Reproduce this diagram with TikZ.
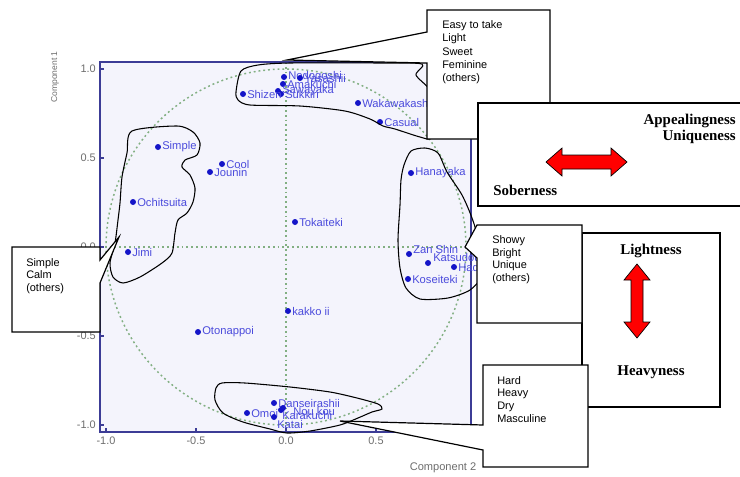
\documentclass[tikz,border=0pt]{standalone}
\usepackage{fontspec}
\setmainfont{Liberation Sans}
\newfontfamily\serifb{Liberation Serif}
\definecolor{navy}{RGB}{60,60,150}
\definecolor{plotbg}{RGB}{244,244,252}
\definecolor{dotblue}{RGB}{20,20,200}
\definecolor{lblblue}{RGB}{75,75,220}
\definecolor{dgreen}{RGB}{130,175,130}
\definecolor{tickgray}{RGB}{110,110,110}
\begin{document}
\begin{tikzpicture}[x=0.75pt,y=-0.75pt,
  lbl/.style={anchor=west,inner sep=0pt,text=lblblue,font=\fontsize{8.4}{9}\selectfont},
  dot/.style={circle,fill=dotblue,inner sep=0pt,minimum size=4.5pt},
  tickl/.style={inner sep=0pt,text=tickgray,font=\fontsize{8.2}{9}\selectfont},
  gridl/.style={draw=dgreen,line width=1.1pt,dash pattern=on 1.4pt off 2.2pt},
  frame/.style={draw=navy,line width=1.1pt},
  blob/.style={draw=black,line width=0.8pt},
  callout/.style={draw=black,fill=white,line width=0.9pt,line join=miter},
  ct/.style={anchor=base west,inner sep=0pt,font=\fontsize{8.2}{10}\selectfont},
  bt/.style={inner sep=0pt,font=\serifb\bfseries\fontsize{11.2}{13}\selectfont},
  redarrow/.style={fill=red,draw=black,line width=0.5pt,line join=miter}]
\useasboundingbox (0,0) rectangle (740,476);
\fill[white] (0,0) rectangle (740,476);
% plot area
\fill[plotbg] (100,62) rectangle (471,432);
\draw[gridl] (100,247) -- (471,247);
\draw[gridl] (286,62) -- (286,432);
\draw[gridl] (286,247) ellipse [x radius=180,y radius=178];
\draw[frame] (100,62) rectangle (471,432);
\foreach \y/\t [count=\i] in {69/1.0,158/0.5,247/0.0,336/-0.5,425/-1.0}{
  \draw[navy,line width=0.8pt] (100,\y) -- (104,\y);
  \node[tickl,anchor=east] (ty\i) at (96,\y) {\t};}
\foreach \x/\t [count=\i] in {106/-1.0,196/-0.5,286/0.0,376/0.5}{
  \draw[navy,line width=0.8pt] (\x,432) -- (\x,428);
  \node[tickl] (tx\i) at (\x,441) {\t};}
\node[tickl,rotate=90,font=\fontsize{6.4}{7}\selectfont] (ax1) at (55,77) {Component 1};
\node[tickl,font=\fontsize{8.3}{9}\selectfont] (ax2) at (443,468) {Component 2};
% points
\foreach \n/\x/\y/\t in {
  nodo/284/77/Nodogoshi, yasa/300/78/Yasashii, amak/283/84/Amakuchi,
  sawa/278/91/Sawayaka, sukk/281/94/Sukkiri, shiz/243/94/Shizen,
  waka/358/103/Wakawakashii, casu/380/122/Casual,
  simp/158/147/Simple, cool/222/164/Cool, joun/210/172/Jounin,
  ochi/133/202/Ochitsuita, jimi/128/252/Jimi, toka/295/222/Tokaiteki,
  kakk/288/311/kakko ii, oton/198/332/Otonappoi,
  hana/411/173/Hanayaka, hade/454/267/Hade, kose/408/279/Koseiteki,
  dans/274/403/Danseirashii, omo/247/413/Omoi}{
  \node[dot] (\n) at (\x,\y) {};
  \node[lbl] (\n-l) at (\x+4,\y) {\t};}
\node[dot] (zans) at (409,254) {};
\node[lbl] (zans-l) at (413,249) {Zan Shin};
\node[dot] (kats) at (428,263) {};
\node[lbl] (kats-l) at (433,257) {Katsudou};
\node[dot] (nouk) at (283,408) {};
\node[lbl] (nouk-l) at (293,411) {Nou kou};
\node[dot] (kara) at (274,417) {};
\node[lbl] (kara-l) at (282,415) {Karakuchi};
\node[dot] (kata) at (281,410) {};
\node[lbl] (kata-l) at (277,424) {Katai};
% blobs
\draw[blob] plot[smooth cycle,tension=0.45] coordinates {(236,92) (241,71) (258,65) (290,63) (380,63) (422,64) (416,75) (430,90) (440,115) (432,138) (420,137) (395,129) (383,126) (370,119) (345,111) (300,106) (250,105) (238,100)};
\draw[blob] plot[smooth cycle,tension=0.45] coordinates {(132,131) (177,126) (193,132) (200,143) (197,155) (185,160) (182,167) (190,175) (195,188) (193,202) (187,213) (178,220) (175,233) (172,253) (162,263) (140,277) (123,283) (113,277) (110,263) (115,243) (118,220) (120,203) (122,177) (127,153)};
\draw[blob] plot[smooth cycle,tension=0.45] coordinates {(404,165) (411,151) (425,148) (438,153) (447,172) (462,195) (472,218) (480,245) (482,275) (470,290) (448,298) (420,299) (406,288) (400,268) (398,240) (400,205) (401,180)};
\draw[blob] plot[smooth cycle,tension=0.45] coordinates {(222,383) (245,383) (290,387) (330,392) (357,398) (378,404) (382,409) (372,412) (358,418) (340,425) (310,431) (287,433) (270,429) (243,422) (223,413) (215,400) (216,388)};
% Lightness box
\draw[callout] (582,233) rectangle (720,407);
\node[bt,anchor=base] (light) at (651,254) {Lightness};
\node[bt,anchor=base] (heavy) at (651,375) {Heavyness};
\draw[redarrow] (637,264) -- (650,280) -- (643,280) -- (643,322) -- (650,322) -- (637,338) -- (624,322) -- (631,322) -- (631,280) -- (624,280) -- cycle;
% Showy callout
\draw[callout] (477,225) -- (582,225) -- (582,323) -- (477,323) -- (477,258) -- (465,247) -- cycle;
\node[ct] (s1) at (492,243) {Showy};
\node[ct] (s2) at (492,256) {Bright};
\node[ct] (s3) at (492,268) {Unique};
\node[ct] (s4) at (492,281) {(others)};
% Hard callout
\draw[callout] (483,365) -- (588,365) -- (588,467) -- (483,467) -- (483,450) -- (340,421) -- (483,425) -- cycle;
\node[ct] (h1) at (497,384) {Hard};
\node[ct] (h2) at (497,396) {Heavy};
\node[ct] (h3) at (497,409) {Dry};
\node[ct] (h4) at (497,422) {Masculine};
% Simple callout
\draw[callout] (12,247) -- (100,247) -- (100,260) -- (119,237) -- (100,283) -- (100,332) -- (12,332) -- cycle;
\node[ct] (m1) at (26,266) {Simple};
\node[ct] (m2) at (26,278) {Calm};
\node[ct] (m3) at (26,291) {(others)};
% Easy callout
\draw[callout] (427,10) -- (550,10) -- (550,139) -- (427,139) -- (427,63) -- (287,60) -- (427,32) -- cycle;
\node[ct] (e1) at (442,28) {Easy to take};
\node[ct] (e2) at (442,41) {Light};
\node[ct] (e3) at (442,55) {Sweet};
\node[ct] (e4) at (442,68) {Feminine};
\node[ct] (e5) at (442,81) {(others)};
% Appealingness box
\draw[callout] (478,103) rectangle (746,206);
\node[bt,anchor=base east] (appe) at (736,124) {Appealingness};
\node[bt,anchor=base east] (uniq) at (736,140) {Uniqueness};
\node[bt,anchor=base west] (sobe) at (493,195) {Soberness};
\draw[redarrow] (546,162) -- (562,148) -- (562,155) -- (611,155) -- (611,148) -- (627,162) -- (611,176) -- (611,169) -- (562,169) -- (562,176) -- cycle;
\end{tikzpicture}
\end{document}
